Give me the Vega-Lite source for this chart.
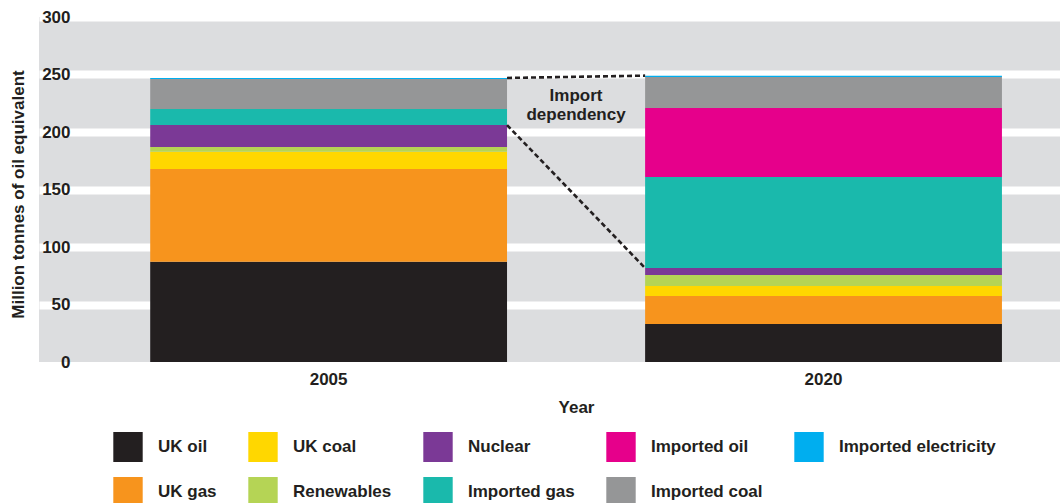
{
  "$schema": "https://vega.github.io/schema/vega-lite/v6.json",
  "width": 1021,
  "height": 345,
  "autosize": {"type": "none"},
  "padding": {"left": 39, "top": 17, "right": 0, "bottom": 141},
  "background": "white",
  "config": {
    "font": "Liberation Sans",
    "view": {"fill": "#dcdddf", "stroke": null},
    "axis": {"labelFont": "Liberation Sans", "titleFont": "Liberation Sans", "labelFontSize": 17, "titleFontSize": 17, "labelFontWeight": "bold", "titleFontWeight": "bold", "labelColor": "#231f20", "titleColor": "#231f20"}
  },
  "datasets": {
    "energy": [
      {"year": "2005", "source": "UK oil", "value": 87.2, "order": 1},
      {"year": "2005", "source": "UK gas", "value": 80.6, "order": 2},
      {"year": "2005", "source": "UK coal", "value": 15.0, "order": 3},
      {"year": "2005", "source": "Renewables", "value": 4.1, "order": 4},
      {"year": "2005", "source": "Nuclear", "value": 19.1, "order": 5},
      {"year": "2005", "source": "Imported gas", "value": 13.9, "order": 6},
      {"year": "2005", "source": "Imported oil", "value": 0, "order": 7},
      {"year": "2005", "source": "Imported coal", "value": 26.1, "order": 8},
      {"year": "2005", "source": "Imported electricity", "value": 0.9, "order": 9},
      {"year": "2020", "source": "UK oil", "value": 33.0, "order": 1},
      {"year": "2020", "source": "UK gas", "value": 24.3, "order": 2},
      {"year": "2020", "source": "UK coal", "value": 8.7, "order": 3},
      {"year": "2020", "source": "Renewables", "value": 9.6, "order": 4},
      {"year": "2020", "source": "Nuclear", "value": 6.1, "order": 5},
      {"year": "2020", "source": "Imported gas", "value": 79.1, "order": 6},
      {"year": "2020", "source": "Imported oil", "value": 60.0, "order": 7},
      {"year": "2020", "source": "Imported coal", "value": 27.0, "order": 8},
      {"year": "2020", "source": "Imported electricity", "value": 1.2, "order": 9}
    ],
    "dependency": [
      {"series": "Total", "from": "2005", "to": "2020", "start": 247.0, "end": 249.0},
      {"series": "Domestic", "from": "2005", "to": "2020", "start": 206.0, "end": 81.7}
    ],
    "note": [
      {"label": "Import\ndependency"}
    ]
  },
  "layer": [
    {
      "data": {"name": "energy"},
      "mark": {"type": "bar", "strokeWidth": 0},
      "encoding": {
        "x": {
          "field": "year", "type": "nominal",
          "scale": {"domain": ["2005", "2020"], "paddingInner": 0.279, "paddingOuter": 0.171, "align": 0.657},
          "axis": {"title": "Year", "labelAngle": 0, "ticks": false, "tickSize": 0, "domain": false, "grid": false, "labelPadding": 17, "labelBaseline": "middle", "titleX": 537, "titleY": 45, "titleBaseline": "middle", "titleAlign": "center"}
        },
        "y": {
          "field": "value", "type": "quantitative", "aggregate": "sum", "stack": "zero",
          "scale": {"domain": [0, 300], "nice": false},
          "axis": {
            "title": "Million tonnes of oil equivalent",
            "values": [0, 50, 100, 150, 200, 250, 300],
            "domain": false, "ticks": false, "tickSize": 0,
            "labelPadding": -31, "labelAlign": "right", "labelBaseline": "middle", "labelFlush": false,
            "grid": true, "gridColor": "white", "gridWidth": 8,
            "gridOpacity": {"condition": {"test": "datum.value === 0", "value": 0}, "value": 1},
            "titleX": -21, "titleY": 177, "titleAngle": -90, "titleBaseline": "middle", "titleAlign": "center"
          }
        },
        "color": {
          "field": "source", "type": "nominal",
          "scale": {
            "domain": ["UK oil", "UK coal", "Nuclear", "Imported oil", "Imported electricity", "UK gas", "Renewables", "Imported gas", "Imported coal"],
            "range": ["#231f20", "#ffd700", "#7b3996", "#e6008b", "#00aeef", "#f7941d", "#b5d455", "#1ab9ac", "#959697"]
          },
          "legend": {
            "orient": "none", "legendX": 74, "legendY": 415, "columns": 5, "direction": "horizontal",
            "title": null, "padding": 0,
            "symbolType": "M-0.98,-1H0.98V1H-0.98Z", "symbolSize": 900, "symbolStrokeWidth": 0, "symbolOpacity": 1,
            "labelFont": "Liberation Sans", "labelFontSize": 17, "labelFontWeight": "bold", "labelColor": "#231f20",
            "labelOffset": 15, "labelLimit": 300, "columnPadding": 31, "rowPadding": 15, "gridAlign": "each"
          }
        },
        "order": {"field": "order", "type": "quantitative", "aggregate": "min"}
      }
    },
    {
      "data": {"name": "dependency"},
      "mark": {"type": "rule", "color": "#231f20", "strokeWidth": 2.6, "strokeDash": [5, 3]},
      "encoding": {
        "x": {"field": "from", "type": "nominal", "bandPosition": 1, "scale": {"domain": ["2005", "2020"], "paddingInner": 0.279, "paddingOuter": 0.171, "align": 0.657}, "axis": null},
        "x2": {"field": "to", "bandPosition": 0},
        "y": {"field": "start", "type": "quantitative"},
        "y2": {"field": "end"}
      }
    },
    {
      "data": {"name": "note"},
      "mark": {"type": "text", "font": "Liberation Sans", "fontSize": 17, "fontWeight": "bold", "color": "#231f20", "align": "center", "baseline": "alphabetic", "lineBreak": "\n", "lineHeight": 19.5},
      "encoding": {
        "x": {"field": "label", "type": "nominal", "scale": {"type": "point", "align": 0.526}, "axis": null},
        "y": {"datum": 227, "type": "quantitative"},
        "text": {"field": "label", "type": "nominal"}
      }
    }
  ],
  "resolve": {"scale": {"x": "independent"}, "axis": {"x": "independent"}}
}
